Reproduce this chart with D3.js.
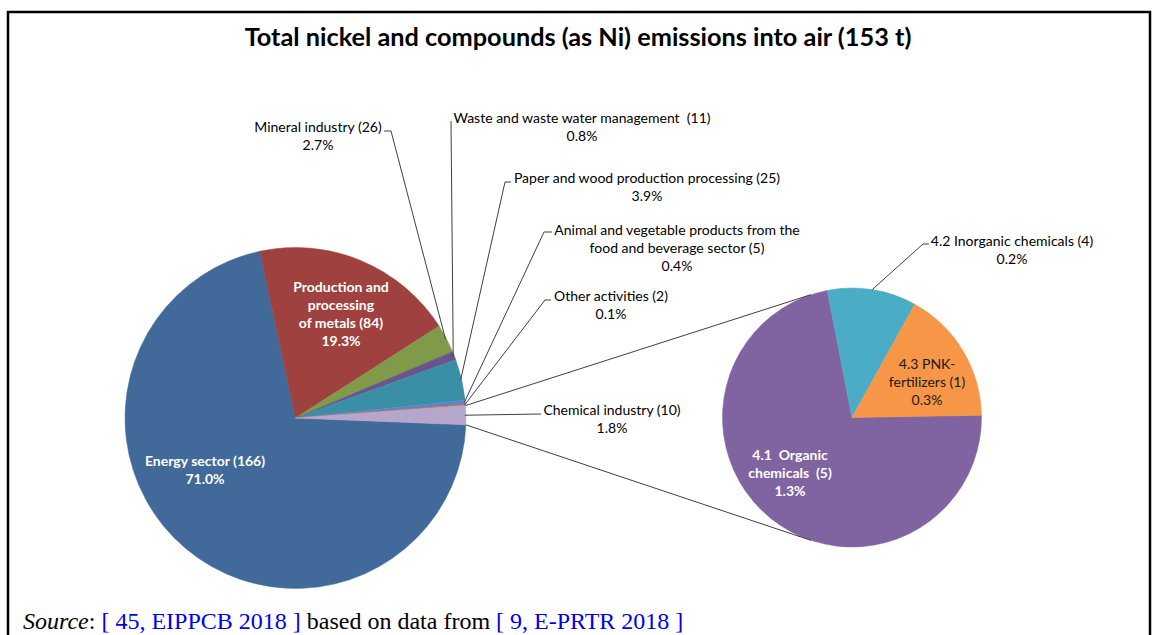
<!DOCTYPE html>
<html><head><meta charset="utf-8">
<script src="https://cdn.jsdelivr.net/npm/d3@7"></script>
<style>
body{margin:0;background:#fff;}
svg{display:block;}
text{font-family:Lato,"Open Sans",sans-serif;}
</style></head>
<body>
<svg id="chart" width="1158" height="635"></svg>
<script>
// ---------- data ----------
const title = "Total nickel and compounds (as Ni) emissions into air (153 t)";
const categories = ["Energy sector","Production and processing of metals","Mineral industry","Waste and waste water management","Paper and wood production processing","Animal and vegetable products from the food and beverage sector","Other activities","Chemical industry"];
const tonnes = [166,84,26,11,25,5,2,10];
const percents = [71.0,19.3,2.7,0.8,3.9,0.4,0.1,1.8];
const subCategories = ["4.1  Organic chemicals","4.2 Inorganic chemicals","4.3 PNK-fertilizers"];
const subTonnes = [5,4,1];
const subPercents = [1.3,0.2,0.3];
// how names wrap on the picture
const nameLines = [["Energy sector"],["Production and","processing","of metals"],["Mineral industry"],["Waste and waste water management "],["Paper and wood production processing"],["Animal and vegetable products from the","food and beverage sector"],["Other activities"],["Chemical industry"]];
const subNameLines = [["4.1  Organic","chemicals "],["4.2 Inorganic chemicals"],["4.3 PNK-","fertilizers"]];

// ---------- styles / layout ----------
const colors = ["#416a9b","#9f413e","#7f9a48","#6a548e","#3a8fa6","#5a86c5","#e0603a","#b4a7cb"];
const subColors = ["#8064a2","#4bacc6","#f79646"];
const deg = Math.PI/180;
const svg = d3.select("#chart");

// frame
svg.append("rect").attr("x",8).attr("y",12).attr("width",1142).attr("height",700)
  .attr("fill","none").attr("stroke","#000").attr("stroke-width",2.5);

svg.append("text").attr("x",578).attr("y",46).attr("text-anchor","middle")
  .attr("font-size",25.3).attr("font-weight","bold").attr("fill","#000").text(title);

// main pie
const c1 = {x:295.5, y:418, r:170.5};
const pie1 = d3.pie().sort(null).value(d=>d).startAngle(92.3*deg).endAngle((92.3+360)*deg);
const arcs1 = pie1(percents);
const arc1 = d3.arc().innerRadius(0).outerRadius(c1.r);
const g1 = svg.append("g").attr("transform",`translate(${c1.x},${c1.y})`);
g1.selectAll("path").data(arcs1).join("path").attr("d",arc1)
  .attr("fill",(d,i)=>colors[i]).attr("stroke",(d,i)=>colors[i]).attr("stroke-width",0.5);

// second pie
const c2 = {x:852, y:417.5, r:129.5};
const pie2 = d3.pie().sort(null).value(d=>d).startAngle(89*deg).endAngle((89+360)*deg);
const arcs2 = pie2(subPercents);
const arc2 = d3.arc().innerRadius(0).outerRadius(c2.r);
const g2 = svg.append("g").attr("transform",`translate(${c2.x},${c2.y})`);
g2.selectAll("path").data(arcs2).join("path").attr("d",arc2)
  .attr("fill",(d,i)=>subColors[i]).attr("stroke",(d,i)=>subColors[i]).attr("stroke-width",0.5);

function pt(c,a,r){return [c.x+(r??c.r)*Math.sin(a), c.y-(r??c.r)*Math.cos(a)];}

// connector lines between pies
const chem = arcs1[7];
const conn = [[pt(c1,chem.startAngle), pt(c2,-18.5*deg)],[pt(c1,chem.endAngle), pt(c2,198.5*deg)]];
svg.selectAll("line.conn").data(conn).join("line").attr("class","conn")
  .attr("x1",d=>d[0][0]).attr("y1",d=>d[0][1]).attr("x2",d=>d[1][0]).attr("y2",d=>d[1][1])
  .attr("stroke","#404040").attr("stroke-width",1);

// label layout: outside labels with leader lines
const fs = 14, lh = 18;
const outside = {
  2:{cx:318, y:127, elbow:[391,131], end:[384,131]},
  3:{cx:582, y:118, elbow:[451,122], end:[451,121]},
  4:{cx:647, y:178, elbow:[505,182], end:[511,182]},
  5:{cx:677, y:230, elbow:[544,232], end:[552,232]},
  6:{cx:611, y:296, elbow:[545,300], end:[551,300]},
  7:{cx:612, y:410, elbow:[540,414], end:[541,414]}
};
const inside = {0:{cx:205,y:461,color:"#fff",bold:true},1:{cx:341,y:287,color:"#fff",bold:true}};

function labelLines(names,t,p){
  const l = names.slice(); l[l.length-1] = l[l.length-1]+" ("+t+")"; l.push(p.toFixed(1)+"%"); return l;
}
function drawText(lines,cx,y,color,bold){
  const t = svg.append("text").attr("text-anchor","middle").attr("font-size",fs)
    .attr("fill",color).attr("font-weight",bold?"bold":"normal").style("white-space","pre");
  lines.forEach((s,i)=>t.append("tspan").attr("x",cx).attr("y",y+i*lh).attr("dy","0.35em").text(s));
}
function leader(start,elbow,end){
  svg.append("polyline").attr("points",[start,elbow,end].map(p=>p.join(",")).join(" "))
    .attr("fill","none").attr("stroke","#404040").attr("stroke-width",1);
}
arcs1.forEach((a,i)=>{
  const lines = labelLines(nameLines[i],tonnes[i],percents[i]);
  if(outside[i]){
    const o = outside[i];
    leader(pt(c1,(a.startAngle+a.endAngle)/2,c1.r-1), o.elbow, o.end);
    drawText(lines,o.cx,o.y,"#000",false);
  } else {
    const o = inside[i]; drawText(lines,o.cx,o.y,o.color,o.bold);
  }
});
const subLayout = {0:{cx:790,y:455,color:"#fff",bold:true},1:{cx:1012,y:241,color:"#000",bold:false,elbow:[923,244],end:[929,244]},2:{cx:927,y:364,color:"#1a1a1a",bold:false}};
arcs2.forEach((a,i)=>{
  const o = subLayout[i];
  const lines = labelLines(subNameLines[i],subTonnes[i],subPercents[i]);
  if(o.elbow) leader(pt(c2,(a.startAngle+a.endAngle)/2), o.elbow, o.end);
  drawText(lines,o.cx,o.y,o.color,o.bold);
});

// source line
const src = svg.append("text").attr("x",23).attr("y",629).attr("font-size",24)
  .style("font-family","'Liberation Serif','Times New Roman',serif").style("white-space","pre");
src.append("tspan").attr("font-style","italic").attr("fill","#000").text("Source");
src.append("tspan").attr("fill","#000").text(": ");
src.append("tspan").attr("fill","#0000ee").text("[ 45, EIPPCB 2018 ]");
src.append("tspan").attr("fill","#000").text(" based on data from ");
src.append("tspan").attr("fill","#0000ee").text("[ 9, E-PRTR 2018 ]");
</script>
</body></html>
